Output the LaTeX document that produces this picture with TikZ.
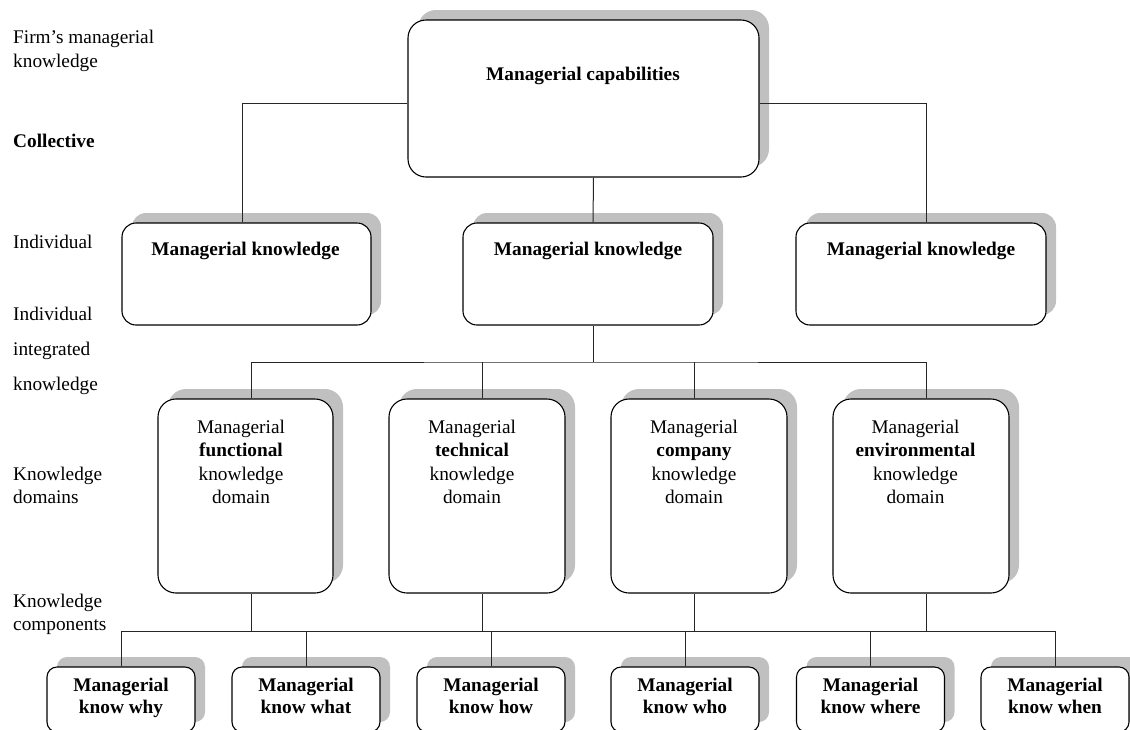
\documentclass[tikz,border=0pt]{standalone}
\usepackage{fontspec}
\setmainfont{Liberation Serif}
\usetikzlibrary{shadows}
\definecolor{shadowgray}{RGB}{192,192,192}
\begin{document}
\begin{tikzpicture}[x=1pt,y=-1pt,
  font=\fontsize{19.3pt}{23.3pt}\selectfont,
  box/.style={draw=black, line width=1.1pt, fill=white, rounded corners=#1,
    inner sep=0pt, drop shadow={shadow xshift=10pt, shadow yshift=10pt, fill=shadowgray, opacity=1}},
  box/.default=15pt,
  conn/.style={draw=black!85, line width=1pt},
  txt/.style={inner sep=0pt, align=center},
  side/.style={inner sep=0pt, anchor=west, align=left}]
\useasboundingbox (0,0) rectangle (1130,729);
\clip (0,0) rectangle (1130,729);

% left labels
\node[side] (s1) at (13,51) {Firm’s managerial\\knowledge};
\node[side] (s2) at (13,141) {\bfseries Collective};
\node[side] (s3) at (13,242) {Individual};
\node[side, font=\fontsize{19.3pt}{35pt}\selectfont] (s4) at (13,351) {Individual\\integrated\\knowledge};
\node[side] (s5) at (13,485.5) {Knowledge\\domains};
\node[side] (s6) at (13,614.5) {Knowledge\\components};

% top box
\node[box=18pt, minimum width=351pt, minimum height=157pt] (T) at (583.5,98.5) {};
\node[txt] (Tt) at (583,76) {\bfseries Managerial capabilities};

% managerial knowledge boxes
\node[box=14pt, minimum width=249pt, minimum height=102pt] (L) at (246.5,274) {};
\node[box=14pt, minimum width=250pt, minimum height=102pt] (M) at (588,274) {};
\node[box=14pt, minimum width=250pt, minimum height=102pt] (R) at (921,274) {};
\node[txt] (Lt) at (245.5,251) {\bfseries Managerial knowledge};
\node[txt] (Mt) at (588,251) {\bfseries Managerial knowledge};
\node[txt] (Rt) at (921,251) {\bfseries Managerial knowledge};

% domain boxes
\node[box=18pt, minimum width=175pt, minimum height=194pt] (D1) at (245.5,496) {};
\node[box=18pt, minimum width=176pt, minimum height=194pt] (D2) at (477,496) {};
\node[box=18pt, minimum width=176pt, minimum height=194pt] (D3) at (699,496) {};
\node[box=18pt, minimum width=176pt, minimum height=194pt] (D4) at (921,496) {};
\node[txt] (D1t) at (241,462) {Managerial\\\textbf{functional}\\knowledge\\domain};
\node[txt] (D2t) at (472,462) {Managerial\\\textbf{technical}\\knowledge\\domain};
\node[txt] (D3t) at (694,462) {Managerial\\\textbf{company}\\knowledge\\domain};
\node[txt] (D4t) at (915.5,462) {Managerial\\\textbf{environmental}\\knowledge\\domain};

% component boxes
\foreach \n/\x/\w in {B1/121/why, B2/306/what, B3/491/how, B4/685/who, B5/870.5/where, B6/1055/when}{
  \node[box=10pt, minimum width=148pt, minimum height=65pt] (\n) at (\x,699.5) {};
  \node[txt, anchor=north, font=\fontsize{19.3pt}{22pt}\selectfont\bfseries] (\n t) at (\x,677.5) {Managerial\\know \w};
}

% connectors top level
\draw[conn] ([yshift=-4.5pt]T.west) -| ([xshift=-4.5pt]L.north);
\draw[conn] ([yshift=-4.5pt]T.east) -| ([xshift=5pt]R.north);
\draw[conn] ([xshift=10pt]T.south) -- ([xshift=5pt]M.north);

% connectors to domains
\coordinate (J1) at (593,362);
\draw[conn] ([xshift=5pt]M.south) -- (J1);
\draw[conn] ([xshift=5.5pt]D1.north) |- (J1) -| ([xshift=5pt]D4.north);
\draw[conn] ([xshift=5pt]D2.north) -- ([xshift=5pt]D2.north |- J1);
\draw[conn] ([xshift=-5pt]D3.north) -- ([xshift=-5pt]D3.north |- J1);

% connectors to components
\coordinate (J2) at (121,631);
\draw[conn] (B1.north) |- (J2) -| (B6.north);
\foreach \b in {B2,B3,B4,B5}{
  \draw[conn] (\b.north) -- (\b.north |- J2);
}
\draw[conn] ([xshift=5.5pt]D1.south) -- ([xshift=5.5pt]D1.south |- J2);
\draw[conn] ([xshift=5pt]D2.south) -- ([xshift=5pt]D2.south |- J2);
\draw[conn] ([xshift=-5pt]D3.south) -- ([xshift=-5pt]D3.south |- J2);
\draw[conn] ([xshift=5pt]D4.south) -- ([xshift=5pt]D4.south |- J2);
\end{tikzpicture}
\end{document}
